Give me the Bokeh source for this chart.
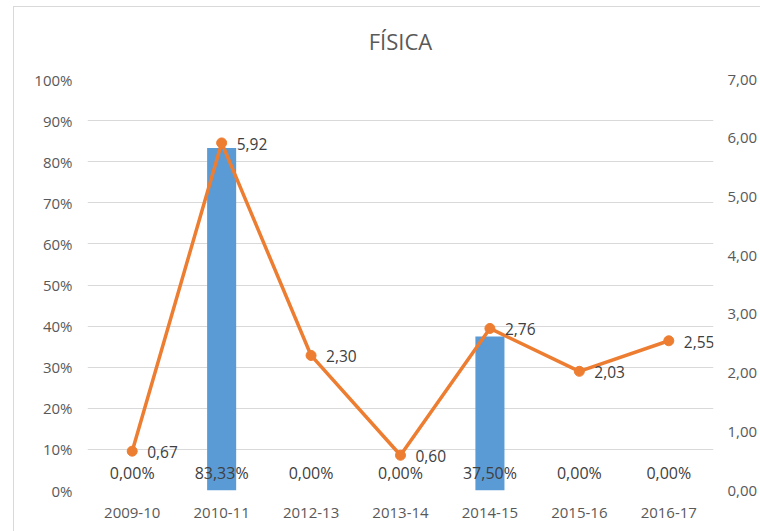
from bokeh.plotting import figure
from bokeh.models import (FactorRange, Range1d, LinearAxis, FixedTicker,
                          CustomJSTickFormatter, ColumnDataSource)
from bokeh.core.properties import value
from bokeh.embed import file_html
from bokeh.resources import INLINE

# ---- data ----
categories = ["2009-10", "2010-11", "2012-13", "2013-14", "2014-15", "2015-16", "2016-17"]
pct_values = [0.0, 0.8333, 0.0, 0.0, 0.375, 0.0, 0.0]
score_values = [0.67, 5.92, 2.30, 0.60, 2.76, 2.03, 2.55]
left_ticks = [0, 0.1, 0.2, 0.3, 0.4, 0.5, 0.6, 0.7, 0.8, 0.9, 1.0]
right_ticks = [0, 1, 2, 3, 4, 5, 6, 7]
title_text = "FÍSICA"

FONT = "Open Sans"
GRAY = "#595959"
LABEL = "#404040"
BLUE = "#5B9BD5"
ORANGE = "#ED7D31"
FRAME = "#d9d9d9"

src = ColumnDataSource(dict(
    cat=categories,
    pct=pct_values,
    score=score_values,
    pct_txt=[("%.2f" % (v * 100)).replace(".", ",") + "%" for v in pct_values],
    score_txt=[("%.2f" % v).replace(".", ",") for v in score_values],
    zero=[0] * len(categories),
))

p = figure(x_range=FactorRange(*categories, range_padding=0),
           y_range=Range1d(0, 1),
           width=760, height=531, output_backend="svg", toolbar_location=None,
           min_border_left=87, min_border_right=47, min_border_top=79,
           min_border_bottom=41)
p.extra_y_ranges = {"right": Range1d(0, 7)}

# chart-area border (left and top edges visible in the reference)
p.styles = {
    "background": (f"linear-gradient({FRAME},{FRAME}) 13px 6px / 1px 525px no-repeat, "
                   f"linear-gradient({FRAME},{FRAME}) 13px 6px / 747px 1px no-repeat, white"),
}

p.title.text = title_text
p.title.align = "center"
p.title.vertical_align = "middle"
p.title.standoff = 46
p.title.text_font = FONT
p.title.text_font_size = "22px"
p.title.text_font_style = "normal"
p.title.text_color = GRAY

p.outline_line_color = None
p.background_fill_color = "white"
p.border_fill_color = None
p.xgrid.grid_line_color = None
p.ygrid.grid_line_color = "#d9d9d9"
p.ygrid.grid_line_width = 1

p.vbar(x="cat", top="pct", width=0.325, fill_color=BLUE, line_color=None, source=src)
p.line(x="cat", y="score", line_color=ORANGE, line_width=3.5, y_range_name="right", source=src)
p.scatter(x="cat", y="score", size=10, color=ORANGE, y_range_name="right", source=src)

p.text(x="cat", y="zero", text="pct_txt", source=src, text_align="center",
       text_baseline="middle", y_offset=-18, text_font=value(FONT),
       text_font_size="16px", text_color=LABEL)
p.text(x="cat", y="score", text="score_txt", source=src, text_align="left",
       text_baseline="middle", x_offset=15, y_offset=1, y_range_name="right",
       text_font=value(FONT), text_font_size="15.5px", text_color=LABEL)

# left axis
ly = p.yaxis[0]
ly.ticker = FixedTicker(ticks=left_ticks)
ly.formatter = CustomJSTickFormatter(code="return Math.round(tick*100) + '%';")
# bottom axis
xa = p.xaxis[0]

ry = LinearAxis(y_range_name="right", ticker=FixedTicker(ticks=right_ticks),
                formatter=CustomJSTickFormatter(code="return tick.toFixed(2).replace('.', ',');"))
p.add_layout(ry, "right")

for ax in (ly, xa, ry):
    ax.axis_line_color = None
    ax.major_tick_line_color = None
    ax.minor_tick_line_color = None
    ax.major_tick_out = 0
    ax.major_tick_in = 0
    ax.minor_tick_out = 0
    ax.major_label_text_font = FONT
    ax.major_label_text_font_size = "15px"
    ax.major_label_text_color = GRAY
ly.major_label_standoff = 15
xa.major_label_standoff = 17
ry.major_label_standoff = 14

open("out.html", "w").write(file_html(p, INLINE))
